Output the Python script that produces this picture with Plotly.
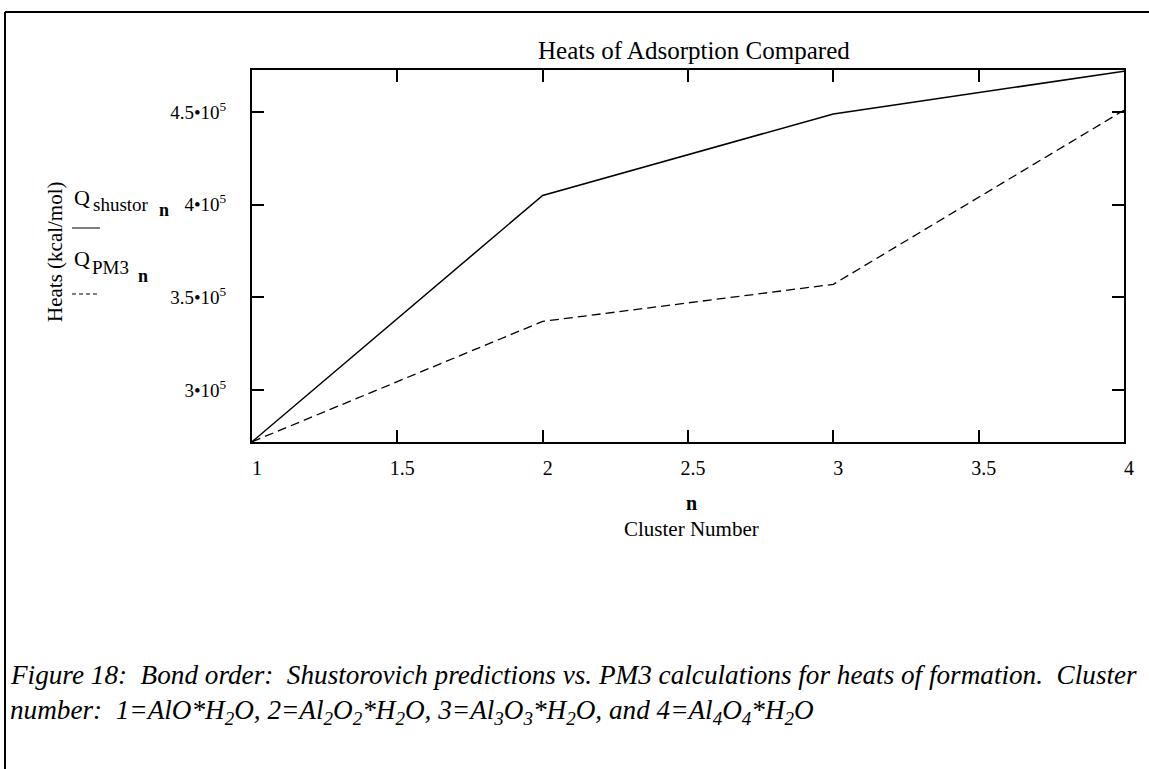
import plotly.graph_objects as go

# ---- data ----
n = [1, 2, 3, 4]
q_shustor = [272000, 405000, 449000, 472000]
q_pm3 = [272000, 337000, 357000, 451000]
x_ticks = [1, 1.5, 2, 2.5, 3, 3.5, 4]
x_ticktext = ["1", "1.5", "2", "2.5", "3", "3.5", "4"]
y_ticks = [300000, 350000, 400000, 450000]
y_ticktext = ["3\u202210<sup>5</sup>", "3.5\u202210<sup>5</sup>",
              "4\u202210<sup>5</sup>", "4.5\u202210<sup>5</sup>"]
y_range = [271900, 472700]
title_text = "Heats of Adsorption Compared"
y_title = "Heats (kcal/mol)"
x_title_var = "n"
x_title = "Cluster Number"
caption1 = ("Figure 18:  Bond order:  Shustorovich predictions vs. PM3 calculations "
            "for heats of formation.  Cluster")
caption2 = ("number:  1=AlO*H<sub>2</sub>O, 2=Al<sub>2</sub>O<sub>2</sub>*H<sub>2</sub>O, "
            "3=Al<sub>3</sub>O<sub>3</sub>*H<sub>2</sub>O, and 4=Al<sub>4</sub>O<sub>4</sub>*H<sub>2</sub>O")

W, H = 1149, 769
L, R, T, B = 252, 1124, 70, 442
FONT = "Liberation Serif, Times New Roman, serif"


def px(x):
    return (x - L) / (R - L)


def py(y):
    return (B - y) / (B - T)


fig = go.Figure()
fig.add_trace(go.Scatter(x=n, y=q_shustor, mode="lines",
                         line=dict(color="black", width=1.5), showlegend=False))
fig.add_trace(go.Scatter(x=n, y=q_pm3, mode="lines",
                         line=dict(color="black", width=1.3, dash="9px,5px"),
                         showlegend=False))

axis_common = dict(showline=True, linecolor="black", linewidth=2, mirror="ticks",
                   ticks="inside", ticklen=12, tickwidth=2, tickcolor="black",
                   showgrid=False, zeroline=False)

fig.update_xaxes(range=[min(n), max(n)], tickvals=x_ticks, ticktext=x_ticktext,
                 ticklabelstandoff=7, ticklabelshift=5,
                 tickfont=dict(family=FONT, size=20, color="black"), **axis_common)
fig.update_yaxes(range=y_range, tickvals=y_ticks, ticktext=y_ticktext,
                 ticklabelstandoff=20,
                 tickfont=dict(family=FONT, size=19, color="black"), **axis_common)


def txt(x, y, text, size, xa="center", ya="middle", angle=0):
    return dict(x=px(x), y=py(y), xref="paper", yref="paper", text=text,
                xanchor=xa, yanchor=ya, textangle=angle, showarrow=False,
                font=dict(family=FONT, size=size, color="black"))


ann = [
    txt(694, 50, title_text, 25),
    txt(55, 252, y_title, 21, angle=-90),
    # legend-like labels
    txt(72, 197, "Q", 22, xa="left"),
    txt(91, 204, "shustor", 19, xa="left"),
    txt(157, 210, "<b>n</b>", 18, xa="left"),
    txt(72, 258, "Q", 22, xa="left"),
    txt(90, 267, "PM3", 19, xa="left"),
    txt(136, 276, "<b>n</b>", 18, xa="left"),
    # x-axis title
    txt(691, 503, "<b>" + x_title_var + "</b>", 20),
    txt(691, 529, x_title, 21),
    # caption
    txt(8, 675, "<i>" + caption1 + "</i>", 27.2, xa="left"),
    txt(8, 712, "<i>" + caption2 + "</i>", 27.2, xa="left"),
]

shapes = [
    # outer frame: top and left lines
    dict(type="line", xref="paper", yref="paper", x0=px(5), x1=px(W), y0=py(12), y1=py(12),
         line=dict(color="black", width=2)),
    dict(type="line", xref="paper", yref="paper", x0=px(5), x1=px(5), y0=py(12), y1=py(H),
         line=dict(color="black", width=2)),
    # legend line samples
    dict(type="line", xref="paper", yref="paper", x0=px(72), x1=px(100), y0=py(228), y1=py(228),
         line=dict(color="black", width=1)),
    dict(type="line", xref="paper", yref="paper", x0=px(72), x1=px(100), y0=py(294), y1=py(294),
         line=dict(color="black", width=1, dash="4px,3px")),
]

fig.update_layout(width=W, height=H, autosize=False,
                  margin=dict(l=L, r=W - R, t=T, b=H - B),
                  paper_bgcolor="white", plot_bgcolor="white",
                  annotations=ann, shapes=shapes, showlegend=False)

fig.write_html("out.html", config={"displayModeBar": False},
               post_script="document.body.style.margin='0';")
